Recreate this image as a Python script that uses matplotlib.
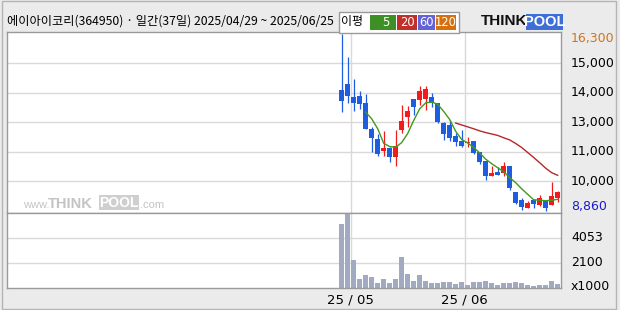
import numpy as np
import pandas as pd
import matplotlib
matplotlib.use("Agg")
import matplotlib.pyplot as plt
from matplotlib.patches import Rectangle

plt.rcParams['font.family'] = ['Noto Sans CJK KR', 'DejaVu Sans']

# --- data ---
dates = ['2025-04-29', '2025-04-30', '2025-05-02', '2025-05-07', '2025-05-08', '2025-05-09',
         '2025-05-12', '2025-05-13', '2025-05-14', '2025-05-15', '2025-05-16', '2025-05-19',
         '2025-05-20', '2025-05-21', '2025-05-22', '2025-05-23', '2025-05-26', '2025-05-27',
         '2025-05-28', '2025-05-29', '2025-05-30', '2025-06-02', '2025-06-04', '2025-06-05',
         '2025-06-09', '2025-06-10', '2025-06-11', '2025-06-12', '2025-06-13', '2025-06-16',
         '2025-06-17', '2025-06-18', '2025-06-19', '2025-06-20', '2025-06-23', '2025-06-24',
         '2025-06-25']
opens = [13960, 14180, 13630, 13690, 13380, 12310, 11860, 11360, 11490, 11110, 12240, 12800,
         13550, 13510, 13550, 13650, 13410, 12550, 12450, 12000, 11810, 11700, 11810, 11320,
         10940, 10320, 10510, 10450, 10760, 9660, 9320, 8990, 9300, 9110, 9320, 9110, 9410]
highs = [16300, 15330, 14400, 13900, 13760, 12380, 12100, 12200, 11560, 12240, 13300, 13250,
         13550, 14110, 14110, 13820, 13410, 12580, 12660, 12120, 12240, 11980, 11810, 11320,
         10970, 10760, 10680, 10900, 10760, 9660, 9410, 9280, 9350, 9530, 9320, 10080, 9700]
lows = [13030, 13380, 13070, 13130, 12300, 11320, 11180, 11180, 10900, 10730, 12120, 12380,
        12870, 13320, 13110, 13220, 12560, 11840, 11810, 11600, 11530, 11560, 11250, 10830,
        10150, 10320, 10360, 10330, 9740, 9160, 8880, 8970, 8990, 9060, 8860, 9110, 9230]
closes = [13480, 13690, 13380, 13350, 12310, 11920, 11260, 11490, 11110, 11600, 12620, 13050,
          13220, 13890, 13970, 13410, 12580, 12070, 11930, 11740, 11600, 11740, 11280, 10900,
          10330, 10430, 10360, 10760, 9800, 9200, 9030, 9200, 9140, 9390, 8990, 9490, 9630]
volumes = [5116, 5900, 2290, 877, 1190, 1034, 563, 877, 563, 877, 2526, 1270, 720, 1190, 720,
           563, 563, 642, 642, 485, 642, 406, 600, 642, 720, 563, 406, 563, 563, 642, 563, 406,
           327, 406, 406, 720, 485]  # x1000

# moving averages as drawn (5 from day 5, 20 from day 20)
ma5 = [13010, 12730, 12310, 11700, 11560, 11530, 11730, 12110, 12660, 13150, 13400, 13440,
       13340, 13040, 12700, 12200, 11860, 11710, 11520, 11290, 11030, 10840, 10670, 10500,
       10250, 10040, 9780, 9550, 9320, 9300, 9280, 9300, 9340]
ma20 = [12550, 12470, 12390, 12310, 12220, 12150, 12090, 12030, 11930, 11840, 11690, 11520,
        11310, 11100, 10880, 10650, 10460, 10350]

price_hi, price_lo = 16300, 8860
price_tick_labels = ['10,000', '11,000', '13,000', '14,000', '15,000']
vol_ticks = [2100, 4053]
vol_lo, vol_hi = 147, 6006

title = '에이아이코리(364950) · 일간(37일) 2025/04/29 ~ 2025/06/25'

# --- colors ---
UP = '#f21a1a'
DOWN = '#1f5de0'
GRID = '#d9d9d9'
FRAME = '#9a9a9a'
BG = '#ebebeb'

W, H = 620, 310
def fx(x):
    return x / W
def fy(y):
    return 1 - y / H

fig = plt.figure(figsize=(6.2, 3.1), dpi=100, facecolor=BG)

L, R = 7, 561
T, M, B = 32, 212.5, 288
ax = fig.add_axes([fx(L), fy(M), (R - L) / W, (M - T) / H])
axv = fig.add_axes([fx(L), fy(B), (R - L) / W, (B - M) / H])

n = len(dates)
x = np.arange(n)
d = pd.to_datetime(dates)
month_starts = [i for i in range(1, n) if d[i].month != d[i - 1].month]

ppx = (price_hi - price_lo) / 176.7   # price per pixel
for a in (ax, axv):
    a.set_xlim(-55.78, 36.55)
    a.set_facecolor('white')
    for s in a.spines.values():
        s.set_color(FRAME)
        s.set_linewidth(1)
    a.tick_params(left=False, right=False, bottom=False, top=False,
                  labelleft=False, labelbottom=False)
    for m in month_starts:
        a.axvline(m - 0.5, color=GRID, lw=1, zorder=0)

ax.set_ylim(price_lo - 1.8 * ppx, price_hi + 2 * ppx)
grid_levels = np.linspace(price_lo, price_hi, 7)[1:-1]
for g in grid_levels:
    ax.axhline(g, color=GRID, lw=1, zorder=0)

# candles
cols = [UP if c >= o else DOWN for o, c in zip(opens, closes)]
ax.vlines(x, lows, highs, colors=cols, lw=0.9, zorder=2)
body_lo = np.minimum(opens, closes)
body_h = np.maximum(np.abs(np.array(closes) - np.array(opens)), ppx * 1.0)
ax.bar(x, body_h, bottom=body_lo, width=0.86, color=cols, lw=0, zorder=3)

ax.plot(np.arange(4, n), ma5, color='#3f9a1f', lw=1, zorder=4)
ax.plot(np.arange(19, n), ma20, color='#b5282a', lw=1, zorder=4)

# volume
axv.set_ylim(vol_lo, vol_hi)
for v in vol_ticks:
    axv.axhline(v, color=GRID, lw=1, zorder=0)
axv.bar(x, volumes, width=0.84, color='#a2aac2', lw=0, zorder=2)

# right-hand labels
num_font = ['Liberation Sans Narrow', 'DejaVu Sans']
lab_x = 571 / W
for g, lab in zip(grid_levels, price_tick_labels):
    ax.annotate(lab, (1, g), xycoords=('figure fraction', 'data'), xytext=(lab_x, 0),
                textcoords=('figure fraction', 'offset points'), va='center', ha='left',
                fontsize=9, family=num_font, color='black')
ax.annotate(f'{price_hi:,}', (lab_x, price_hi), xycoords=('figure fraction', 'data'),
            xytext=(0, -3), textcoords='offset points', va='center', ha='left',
            fontsize=9, family=num_font, color='#d2721a')
ax.annotate(f'{price_lo:,}', (lab_x, price_lo), xycoords=('figure fraction', 'data'),
            xytext=(0, 3), textcoords='offset points', va='center', ha='left',
            fontsize=9, family=num_font, color='#1c1cc8')
for v in vol_ticks:
    axv.annotate(str(v), (lab_x, v), xycoords=('figure fraction', 'data'),
                 xytext=(0, 0), textcoords='offset points', va='center', ha='left',
                 fontsize=9, family=num_font, color='black')
fig.text(lab_x, fy(286), 'x1000', va='center', ha='left', fontsize=9, family=num_font)

# month labels
for m in month_starts:
    axv.annotate(d[m].strftime('%y/%m').replace('/', ' / '), (m - 0.5, 0),
                 xycoords=('data', 'figure fraction'), xytext=(0, fy(300) * 310 * 0.72),
                 textcoords='offset points', ha='center', va='center',
                 fontsize=9.5, family=num_font)

# header
fig.text(fx(7), fy(21), title, fontsize=8.8, va='center', ha='left')

fig.patches.append(Rectangle((fx(339), fy(33)), 120 / W, 21 / H, transform=fig.transFigure,
                             facecolor='white', edgecolor='#9a9a9a', lw=1))
fig.text(fx(352), fy(22), '이평', fontsize=8.6, va='center', ha='center')
legend_items = [('5', '#3f8f27', 370, 396), ('20', '#c0302b', 397, 417),
                ('60', '#6363d6', 418, 435), ('120', '#d6700f', 436, 456)]
for lab, c, x0, x1 in legend_items:
    fig.patches.append(Rectangle((fx(x0), fy(30)), (x1 - x0) / W, 15 / H,
                                 transform=fig.transFigure, facecolor=c, lw=0))
    fig.text(fx((x0 + x1) / 2 + 3 if lab == '5' else (x0 + x1) / 2), fy(22.5), lab,
             color='white', fontsize=8.3, family=num_font, va='center', ha='center')

# THINKPOOL logo
fig.text(fx(481), fy(21), 'THINK', fontsize=11, fontweight='bold', family='Liberation Sans',
         va='center', ha='left', color='#111111')
fig.patches.append(Rectangle((fx(526), fy(30)), 37 / W, 16 / H, transform=fig.transFigure,
                             facecolor='#3d6fd6', lw=0))
fig.text(fx(544.5), fy(21.5), 'POOL', fontsize=10.5, fontweight='bold', family='Liberation Sans',
         va='center', ha='center', color='white')

# watermark
wm = '#c4c4c4'
fig.text(fx(23), fy(205), 'www.', fontsize=8, family='Liberation Sans', color=wm,
         va='center', ha='left')
fig.text(fx(48), fy(203.5), 'THINK', fontsize=10.5, fontweight='bold', family='Liberation Sans',
         color=wm, va='center', ha='left')
fig.patches.append(Rectangle((fx(99), fy(210)), 40 / W, 15 / H, transform=fig.transFigure,
                             facecolor='#cfcfcf', lw=0))
fig.text(fx(119), fy(203), 'POOL', fontsize=10, fontweight='bold', family='Liberation Sans',
         color='white', va='center', ha='center')
fig.text(fx(140), fy(205), '.com', fontsize=8, family='Liberation Sans', color=wm,
         va='center', ha='left')

# outer frame
fig.patches.append(Rectangle((fx(1.5), fy(309)), 614 / W, 308 / H, transform=fig.transFigure,
                             facecolor='none', edgecolor='#b4b4b4', lw=1))

fig.savefig('out.png', dpi=100, facecolor=BG)
